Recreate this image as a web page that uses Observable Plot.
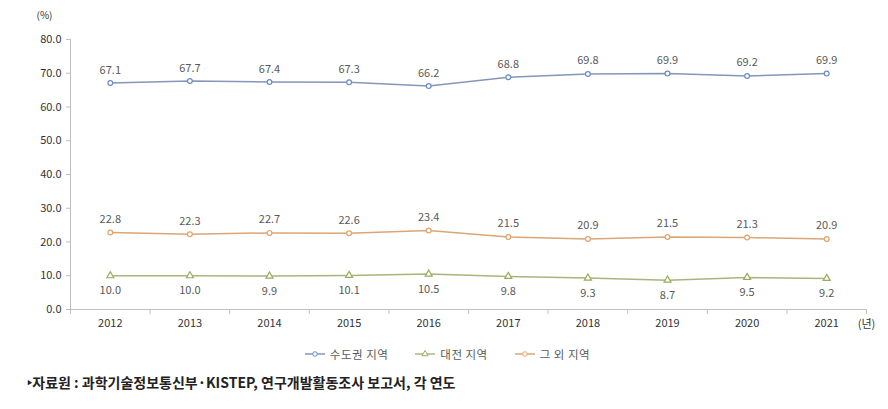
<!DOCTYPE html>
<html>
<head>
<meta charset="utf-8">
<script src="https://cdn.jsdelivr.net/npm/d3@7"></script>
<script src="https://cdn.jsdelivr.net/npm/@observablehq/plot@0.6"></script>
<style>
  html, body { margin: 0; padding: 0; background: #fff; }
  body { width: 888px; height: 409px; position: relative; overflow: hidden; font-family: "Noto Sans CJK KR", "Noto Sans", sans-serif; }
  #chart { position: absolute; left: 0; top: 0; }
  #legend { position: absolute; top: 346px; left: 0; width: 888px; display: flex; justify-content: center; gap: 26px; font-size: 11.5px; color: #595959; padding-left: 6px; box-sizing: border-box; letter-spacing: 0.5px; }
  #legend .item { display: flex; align-items: center; gap: 4px; }
  #caption { position: absolute; top: 372px; left: 27px; font-size: 14px; font-weight: bold; color: #222; letter-spacing: 0px; }
</style>
</head>
<body>
<div id="chart"></div>
<div id="legend"></div>
<div id="caption">‣자료원 : 과학기술정보통신부·KISTEP, 연구개발활동조사 보고서, 각 연도</div>
<script>
const years = [2012, 2013, 2014, 2015, 2016, 2017, 2018, 2019, 2020, 2021];
const capital = [67.1, 67.7, 67.4, 67.3, 66.2, 68.8, 69.8, 69.9, 69.2, 69.9];
const daejeon = [10.0, 10.0, 9.9, 10.1, 10.5, 9.8, 9.3, 8.7, 9.5, 9.2];
const others = [22.8, 22.3, 22.7, 22.6, 23.4, 21.5, 20.9, 21.5, 21.3, 20.9];
const seriesNames = ["수도권 지역", "대전 지역", "그 외 지역"];
const yTicks = [0, 10, 20, 30, 40, 50, 60, 70, 80];

const lineColors = ["#8497b8", "#a9b57c", "#dba676"];
const markColors = ["#6a8cc6", "#98ad5c", "#e3a36a"];
const symbols = ["circle", "triangle", "circle"];
const markR = [2.4, 2.6, 2.4];
const labelDy = [-13, 15, -13];

const allVals = [capital, daejeon, others];
const data = [];
seriesNames.forEach((s, i) => years.forEach((y, j) => data.push({series: s, si: i, year: y, value: allVals[i][j]})));

const boundaries = d3.range(2011.5, 2022, 1);

const marks = [
  Plot.ruleY([0], {stroke: "#bfbfbf"}),
  Plot.ruleX([2011.5], {y1: 0, y2: 80, stroke: "#bfbfbf"}),
  Plot.axisY({ticks: yTicks, tickFormat: d => d.toFixed(1), tickSize: 4, tickPadding: 5, stroke: "#bfbfbf", fontSize: 11, color: "#333", label: null}),
  Plot.axisX({ticks: boundaries, tickFormat: () => "", tickSize: 5, stroke: "#bfbfbf", label: null}),
  Plot.axisX({ticks: years, tickFormat: d => String(d), tickSize: 0, tickPadding: 10, fontSize: 11, color: "#333", label: null})
];
seriesNames.forEach((s, i) => {
  const d = data.filter(r => r.si === i);
  marks.push(Plot.line(d, {x: "year", y: "value", stroke: lineColors[i], strokeWidth: 1.5}));
  marks.push(Plot.dot(d, {x: "year", y: "value", symbol: symbols[i], r: markR[i], stroke: markColors[i], fill: "#fff", strokeWidth: 1.2}));
  marks.push(Plot.text(d, {x: "year", y: "value", text: r => r.value.toFixed(1), dy: labelDy[i], fill: "#595959", fontSize: 11}));
});
marks.push(Plot.text(["(년)"], {x: 2021.5, y: 0, dy: 15, dx: 0, textAnchor: "middle", fontSize: 11, fill: "#333"}));
marks.push(Plot.text(["(%)"], {x: 2011.5, y: 80, dx: -26, dy: -24, fontSize: 10, fill: "#333"}));

const chart = Plot.plot({
  width: 888,
  height: 340,
  marginTop: 39,
  marginBottom: 31,
  marginLeft: 70,
  marginRight: 22,
  style: {fontFamily: "'Noto Sans CJK KR', 'Noto Sans', sans-serif", background: "#fff"},
  x: {type: "linear", domain: [2011.5, 2021.5], axis: null},
  y: {domain: [0, 80], axis: null},
  marks
});
document.getElementById("chart").append(chart);

// legend
const legend = document.getElementById("legend");
seriesNames.forEach((s, i) => {
  const item = document.createElement("div");
  item.className = "item";
  const sw = d3.create("svg").attr("width", 22).attr("height", 10);
  sw.append("line").attr("x1", 1).attr("x2", 21).attr("y1", 5).attr("y2", 5).attr("stroke", lineColors[i]).attr("stroke-width", 1.5);
  const sym = d3.symbol(i === 1 ? d3.symbolTriangle : d3.symbolCircle, 16);
  sw.append("path").attr("d", sym()).attr("transform", "translate(11,5)").attr("fill", "#fff").attr("stroke", markColors[i]).attr("stroke-width", 1);
  item.append(sw.node());
  const t = document.createElement("span");
  t.textContent = s;
  item.append(t);
  legend.append(item);
});
</script>
</body>
</html>
